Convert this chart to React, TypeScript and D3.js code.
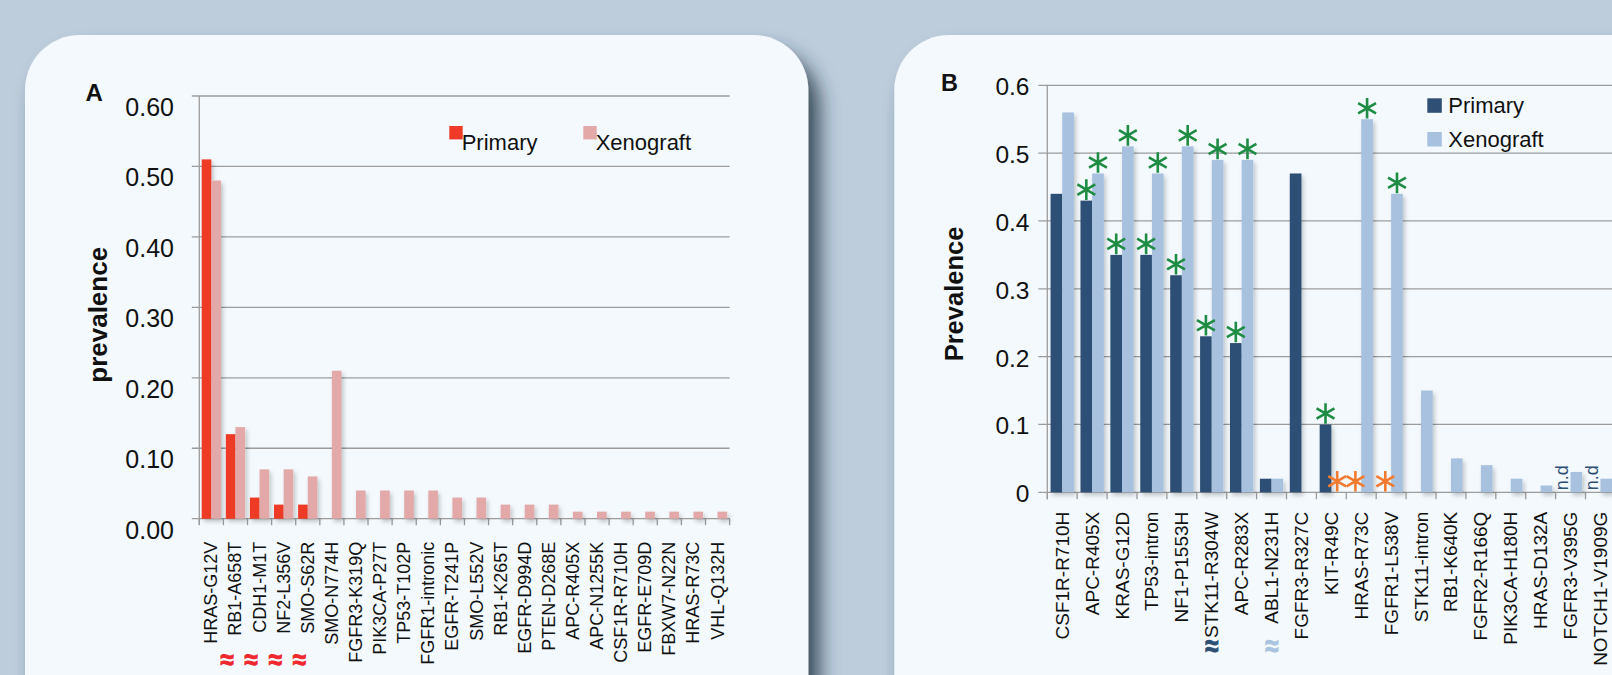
import React from "react";
import * as d3 from "d3";

// ---------- Panel A data ----------
const catsA = [
  "HRAS-G12V", "RB1-A658T", "CDH1-M1T", "NF2-L356V", "SMO-S62R", "SMO-N774H",
  "FGFR3-K319Q", "PIK3CA-P27T", "TP53-T102P", "FGFR1-intronic", "EGFR-T241P",
  "SMO-L552V", "RB1-K265T", "EGFR-D994D", "PTEN-D268E", "APC-R405X",
  "APC-N1255K", "CSF1R-R710H", "EGFR-E709D", "FBXW7-N22N", "HRAS-R73C", "VHL-Q132H",
];
const primaryA = [0.51, 0.12, 0.03, 0.02, 0.02, 0, 0, 0, 0, 0, 0, 0, 0, 0, 0, 0, 0, 0, 0, 0, 0, 0];
const xenograftA = [0.48, 0.13, 0.07, 0.07, 0.06, 0.21, 0.04, 0.04, 0.04, 0.04, 0.03, 0.03, 0.02, 0.02, 0.02, 0.01, 0.01, 0.01, 0.01, 0.01, 0.01, 0.01];
const approxA = ["RB1-A658T", "CDH1-M1T", "NF2-L356V", "SMO-S62R"];
const ticksA = [0, 0.1, 0.2, 0.3, 0.4, 0.5, 0.6];

// ---------- Panel B data ----------
const catsB = [
  "CSF1R-R710H", "APC-R405X", "KRAS-G12D", "TP53-intron", "NF1-P1553H", "STK11-R304W",
  "APC-R283X", "ABL1-N231H", "FGFR3-R327C", "KIT-R49C", "HRAS-R73C", "FGFR1-L538V",
  "STK11-intron", "RB1-K640K", "FGFR2-R166Q", "PIK3CA-H180H", "HRAS-D132A",
  "FGFR3-V395G", "NOTCH1-V1909G",
];
const primaryB = [0.44, 0.43, 0.35, 0.35, 0.32, 0.23, 0.22, 0.02, 0.47, 0.10, 0, 0, 0, 0, 0, 0, 0, 0, 0];
const xenograftB = [0.56, 0.47, 0.51, 0.47, 0.51, 0.49, 0.49, 0.02, 0, 0, 0.55, 0.44, 0.15, 0.05, 0.04, 0.02, 0.01, 0.03, 0.02];
const greenPrimaryB = ["APC-R405X", "KRAS-G12D", "TP53-intron", "NF1-P1553H", "STK11-R304W", "APC-R283X", "KIT-R49C"];
const greenXenograftB = ["APC-R405X", "KRAS-G12D", "TP53-intron", "NF1-P1553H", "STK11-R304W", "APC-R283X", "HRAS-R73C", "FGFR1-L538V"];
const orangePrimaryB = ["HRAS-R73C", "FGFR1-L538V"];
const orangeXenograftB = ["KIT-R49C"];
const notDoneB = ["FGFR3-V395G", "NOTCH1-V1909G"];
const approxB = [
  { cat: "STK11-R304W", color: "#2e4f74" },
  { cat: "ABL1-N231H", color: "#a9c3e1" },
];
const ticksB = [0, 0.1, 0.2, 0.3, 0.4, 0.5, 0.6];

const FONT = "'Liberation Sans', Arial, Helvetica, sans-serif";
const GRID = "#9c9c9c";
const TEXT = "#111";

const asteriskPath = d3.symbol(d3.symbolAsterisk, 300)() as string;

function PanelA() {
  const x = d3.scaleBand<string>().domain(catsA).range([199.3, 729.6]).paddingInner(0.2).paddingOuter(0.1);
  const y = d3.scaleLinear().domain([0, 0.6]).range([518.7, 96]);
  const half = x.bandwidth() / 2;
  const [x0, x1] = x.range();
  const step = x.step();
  const fmt = d3.format(".2f");
  return (
    <g>
      {ticksA.map((t) => (
        <g key={t}>
          <line x1={x0 - 7.5} x2={x1} y1={y(t)} y2={y(t)} stroke={GRID} strokeWidth={1.3} />
          <text x={174} y={y(t) + 20} textAnchor="end" fontSize={25} fill={TEXT}>{fmt(t)}</text>
        </g>
      ))}
      <line x1={x0} x2={x0} y1={y(0.6)} y2={y(0) + 6} stroke={GRID} strokeWidth={1.3} />
      {d3.range(catsA.length + 1).map((i) => (
        <line key={i} x1={x0 + i * step} x2={x0 + i * step} y1={y(0)} y2={y(0) + 6.5} stroke={GRID} strokeWidth={1.3} />
      ))}
      <g filter="url(#barShadow)">
        {catsA.map((c, i) => (
          <g key={c}>
            {primaryA[i] > 0 && (
              <rect x={x(c)!} y={y(primaryA[i])} width={half} height={y(0) - y(primaryA[i])} fill="#ee3a26" />
            )}
            {xenograftA[i] > 0 && (
              <rect x={x(c)! + half} y={y(xenograftA[i])} width={half} height={y(0) - y(xenograftA[i])} fill="#e3a9a8" />
            )}
          </g>
        ))}
      </g>
      {catsA.map((c) => (
        <text key={c} transform={`translate(${x(c)! + x.bandwidth() / 2},541.7) rotate(-90)`} textAnchor="end"
          dominantBaseline="central" fontSize={18} fill={TEXT}>{c}</text>
      ))}
      {approxA.map((c) => (
        <text key={c} transform={`translate(${x(c)! + 1},659.5) scale(1.1,1.25)`} textAnchor="middle" dominantBaseline="central"
          fontSize={22} fontWeight="bold" fill="#f0282d" stroke="#f0282d" strokeWidth={0.8}>≈</text>
      ))}
      <text transform="translate(107,314.8) rotate(-90)" textAnchor="middle" fontSize={26} fontWeight="bold" fill={TEXT}>prevalence</text>
      <text x={85.5} y={101} fontSize={24} fontWeight="bold" fill={TEXT}>A</text>
      {/* legend */}
      <rect x={449.3} y={126} width={13.4} height={13.4} fill="#ee3a26" />
      <text x={461.7} y={150} fontSize={22} fill={TEXT}>Primary</text>
      <rect x={583.3} y={126} width={13.4} height={13.4} fill="#e3a9a8" />
      <text x={595.7} y={150} fontSize={22} fill={TEXT}>Xenograft</text>
    </g>
  );
}

function PanelB() {
  const x = d3.scaleBand<string>().domain(catsB).range([1047.3, 1615.4]).paddingInner(0.22).paddingOuter(0.11);
  const y = d3.scaleLinear().domain([0, 0.6]).range([492.3, 85.3]);
  const half = x.bandwidth() / 2;
  const [x0] = x.range();
  const step = x.step();
  const fmt = (t: number) => (t === 0 ? "0" : d3.format(".1f")(t));
  const idx = (c: string) => catsB.indexOf(c);
  const pCenter = (c: string) => x(c)! + half / 2;
  const xCenter = (c: string) => x(c)! + half * 1.5;
  return (
    <g>
      {ticksB.map((t) => (
        <g key={t}>
          <line x1={x0 - 9} x2={1640} y1={y(t)} y2={y(t)} stroke={GRID} strokeWidth={1.3} />
          <text x={1029.5} y={y(t) + 10} textAnchor="end" fontSize={24.5} fill={TEXT}>{fmt(t)}</text>
        </g>
      ))}
      <line x1={x0} x2={x0} y1={y(0.6)} y2={y(0) + 7} stroke={GRID} strokeWidth={1.3} />
      {d3.range(catsB.length + 1).map((i) => (
        <line key={i} x1={x0 + i * step} x2={x0 + i * step} y1={y(0)} y2={y(0) + 7} stroke={GRID} strokeWidth={1.3} />
      ))}
      <g filter="url(#barShadow)">
        {catsB.map((c, i) => (
          <g key={c}>
            {primaryB[i] > 0 && (
              <rect x={x(c)!} y={y(primaryB[i])} width={half} height={y(0) - y(primaryB[i])} fill="#2f5074" />
            )}
            {xenograftB[i] > 0 && (
              <rect x={x(c)! + half} y={y(xenograftB[i])} width={half} height={y(0) - y(xenograftB[i])} fill="#a7c1df" />
            )}
          </g>
        ))}
      </g>
      {/* significance marks */}
      {greenPrimaryB.map((c) => (
        <path key={"gp" + c} d={asteriskPath} transform={`translate(${pCenter(c)},${y(primaryB[idx(c)]) - 11})`}
          fill="none" stroke="#1f8c43" strokeWidth={2.6} />
      ))}
      {greenXenograftB.map((c) => (
        <path key={"gx" + c} d={asteriskPath} transform={`translate(${xCenter(c)},${y(xenograftB[idx(c)]) - 11})`}
          fill="none" stroke="#1f8c43" strokeWidth={2.6} />
      ))}
      {orangePrimaryB.map((c) => (
        <path key={"op" + c} d={asteriskPath} transform={`translate(${pCenter(c)},${y(primaryB[idx(c)]) - 11})`}
          fill="none" stroke="#f37a2e" strokeWidth={2.6} />
      ))}
      {orangeXenograftB.map((c) => (
        <path key={"ox" + c} d={asteriskPath} transform={`translate(${xCenter(c)},${y(xenograftB[idx(c)]) - 11})`}
          fill="none" stroke="#f37a2e" strokeWidth={2.6} />
      ))}
      {notDoneB.map((c) => (
        <text key={"nd" + c} transform={`translate(${pCenter(c) - 3},${y(0) - 2}) rotate(-90)`} textAnchor="start"
          dominantBaseline="central" fontSize={18} fill="#2e4f74">n.d</text>
      ))}
      {catsB.map((c) => (
        <text key={c} transform={`translate(${x(c)! + x.bandwidth() / 2},511.7) rotate(-90)`} textAnchor="end"
          dominantBaseline="central" fontSize={19} fill={TEXT}>{c}</text>
      ))}
      {approxB.map((a) => (
        <text key={a.cat} transform={`translate(${x(a.cat)! + x.bandwidth() / 2},646) scale(1.1,1.35)`} textAnchor="middle"
          dominantBaseline="central" fontSize={22} fontWeight="bold" fill={a.color} stroke={a.color} strokeWidth={0.8}>≈</text>
      ))}
      <text transform="translate(963,294) rotate(-90)" textAnchor="middle" fontSize={25.5} fontWeight="bold" fill={TEXT}>Prevalence</text>
      <text x={941} y={90.5} fontSize={23.5} fontWeight="bold" fill={TEXT}>B</text>
      {/* legend */}
      <rect x={1427.3} y={98.3} width={14.5} height={14.5} fill="#2f5074" />
      <text x={1448.3} y={113} fontSize={22} fill={TEXT}>Primary</text>
      <rect x={1427.3} y={132} width={14.5} height={14.5} fill="#a7c1df" />
      <text x={1448.3} y={147} fontSize={22} fill={TEXT}>Xenograft</text>
    </g>
  );
}

export default function App() {
  return (
    <svg width={1612} height={675} viewBox="0 0 1612 675"
      style={{ position: "absolute", left: 0, top: 0, display: "block" }} fontFamily={FONT}>
      <defs>
        <filter id="panelShadow" x="-10%" y="-10%" width="130%" height="130%">
          <feDropShadow dx={11} dy={16} stdDeviation={10} floodColor="#24323f" floodOpacity={0.85} />
        </filter>
        <filter id="barShadow" x="-20%" y="-20%" width="150%" height="150%">
          <feDropShadow dx={2} dy={3} stdDeviation={2} floodColor="#000" floodOpacity={0.22} />
        </filter>
      </defs>
      <rect x={0} y={0} width={1612} height={675} fill="#bdcddc" />
      <rect x={25} y={35} width={783.3} height={760} rx={55} ry={55} fill="#f3f9fd" filter="url(#panelShadow)" />
      <rect x={894.3} y={35} width={820} height={760} rx={55} ry={55} fill="#f3f9fd" filter="url(#panelShadow)" />
      <PanelA />
      <PanelB />
    </svg>
  );
}
